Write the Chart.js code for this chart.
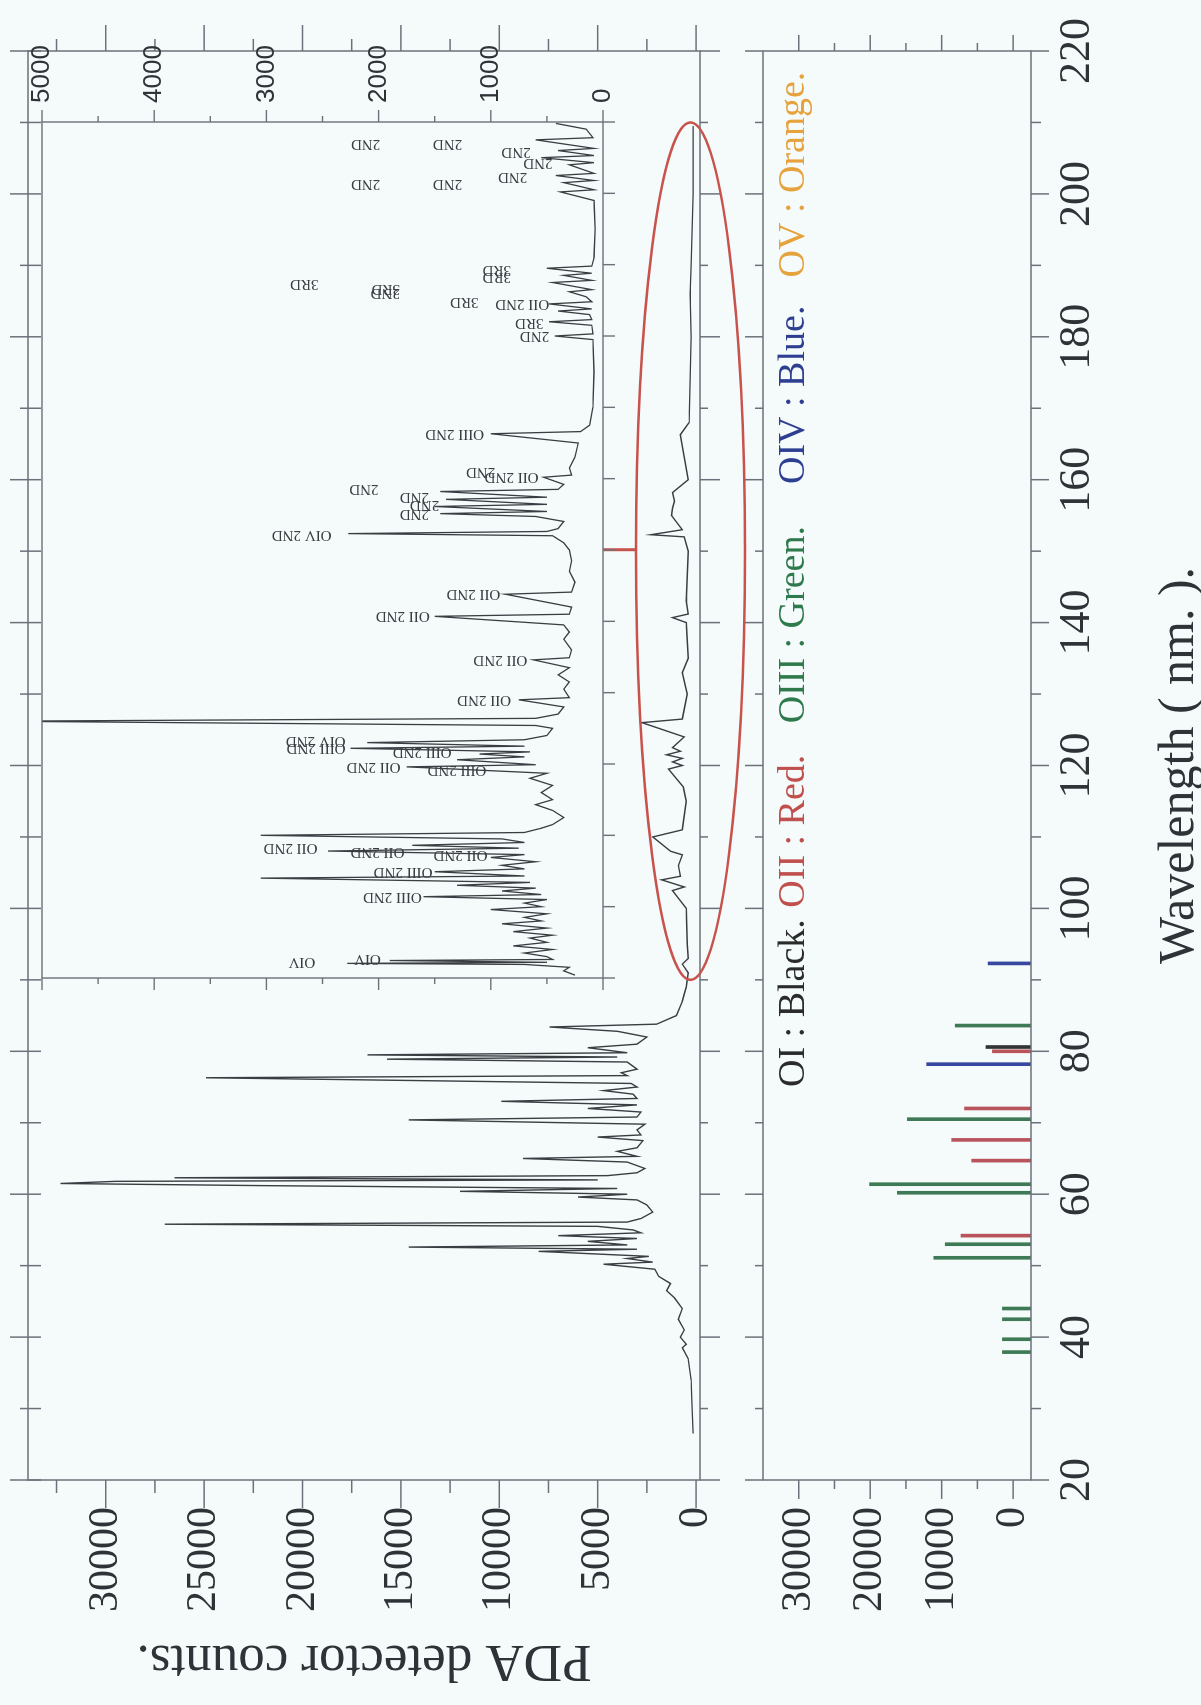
<!DOCTYPE html>
<html>
<head>
<meta charset="utf-8">
<script src="https://cdn.jsdelivr.net/npm/chart.js@4.4.1/dist/chart.umd.min.js"></script>
<style>
  html, body { margin:0; padding:0; }
  body { width:1201px; height:1705px; overflow:hidden; background:#f5fbfb; position:relative; }
  #stage { position:absolute; left:0; top:0; width:1705px; height:1201px; transform-origin:0 0; transform: translateY(1705px) rotate(-90deg); }
  #stage canvas { position:absolute; }
</style>
</head>
<body>
<div id="stage">
  <canvas id="mainChart" width="1705" height="760" style="left:0;top:0"></canvas>
  <canvas id="insetChart" width="1005" height="650" style="left:700px;top:0"></canvas>
  <canvas id="stickChart" width="1705" height="471" style="left:0;top:730px"></canvas>
</div>
<script>
// ---------------- data ----------------
const wlMajorTicks = [20, 40, 60, 80, 100, 120, 140, 160, 180, 200, 220];
const wlMinorTicks = [30, 50, 70, 90, 110, 130, 150, 170, 190, 210];
const insetWlTicks = [90, 100, 110, 120, 130, 140, 150, 160, 170, 180, 190, 200, 210];
const mainCountTicks = [0, 5000, 10000, 15000, 20000, 25000, 30000];
const mainCountMinor = [2500, 7500, 12500, 17500, 22500, 27500, 32500];
const insetCountTicks = [0, 1000, 2000, 3000, 4000, 5000];
const insetCountMinor = [500, 1500, 2500, 3500, 4500];
const stickCountTicks = [0, 10000, 20000, 30000];
const stickCountMinor = [5000, 15000, 25000];

// measured spectrum (wavelength nm, PDA counts)
const mainWl = [26.5, 30, 34, 37, 38.5, 39, 40, 41, 42.5, 44, 45.5, 46.5, 47.5, 48.5, 49.5, 50.2, 50.5, 51, 51.3, 52.0,
  52.3, 52.6, 52.9, 53.4, 53.8, 54.2, 54.6, 55.0, 55.5, 55.8, 56.1, 56.6, 57.5, 58.5, 59.2, 59.6, 60.0, 60.4, 60.8, 61.2,
  61.5, 61.8, 62.0, 62.3, 62.6, 63.0, 63.6, 64.5, 65.0, 65.3, 66.0, 66.5, 67.5, 68.0, 68.3, 69.0, 69.8, 70.4, 70.8, 71.5,
  72.0, 72.5, 73.0, 73.4, 74.0, 74.5, 75.0, 75.5, 76.3, 76.6, 77.0, 77.5, 78.5, 78.9, 79.2, 79.5, 79.8, 80.5, 81, 82,
  82.8, 83.4, 83.8, 85, 87, 89, 91, 92.2, 93, 95, 100, 102.5, 103, 104.0, 104.5, 106, 107.5, 108, 110.0, 111,
  115, 117, 119.5, 120, 120.5, 121, 121.5, 122, 122.5, 124, 126, 126.5, 130, 133, 135, 140, 140.7, 141.2, 143, 150, 152,
  152.3, 153, 155, 156, 157, 158.2, 160, 166.3, 168, 180, 186, 190, 200, 209.5];
const mainCounts = [150, 200, 250, 400, 700, 500, 800, 600, 900, 700, 1100, 1500, 1300, 1900, 2100, 4700, 2200, 3500, 2400, 8000,
  3000, 14600, 3500, 5500, 3000, 7000, 2800, 3200, 5000, 27000, 3500, 2800, 2200, 2500, 3000, 6000, 3500, 12000, 4000, 22000,
  32300, 29500, 5000, 26500, 4500, 3000, 2600, 3500, 8800, 3000, 4000, 3000, 2700, 5000, 2800, 3000, 2600, 14600, 3000, 2800,
  5500, 3000, 9900, 3000, 3200, 4700, 3000, 3300, 24900, 3500, 3800, 3000, 3500, 15700, 4000, 16700, 3500, 5500, 3000, 2500,
  4000, 7450, 2000, 1000, 700, 500, 400, 700, 400, 450, 500, 1200, 600, 1750, 800, 900, 700, 1300, 2200, 700,
  500, 650, 1400, 700, 1200, 700, 1500, 800, 1200, 600, 2750, 700, 450, 700, 400, 500, 1200, 400, 500, 400, 600,
  2300, 700, 1250, 1200, 1100, 1200, 400, 800, 350, 250, 300, 250, 150, 150];

// inset spectrum (90-210 nm, expanded count scale)
const insetWl = [90.4, 91.0, 91.5, 91.9, 92.05, 92.2, 92.45, 92.6, 93.0, 93.5, 94.0, 94.5, 95.0, 95.6, 96.0, 96.5, 97.0, 97.6, 98.0, 98.5,
  99.0, 99.6, 100.0, 100.5, 101.0, 101.4, 101.7, 102.2, 102.6, 103.0, 103.4, 104.0, 104.3, 104.9, 105.3, 105.8, 106.3, 106.9, 107.3, 107.8,
  108.2, 108.6, 109.0, 109.5, 110.0, 110.4, 111.0, 111.5, 112.5, 113.5, 114.3, 115.0, 116.0, 117.0, 118.0, 118.7, 119.6, 119.9, 120.6, 121.0,
  121.4, 121.7, 122.2, 122.5, 123.0, 123.4, 124.0, 125.0, 125.4, 126.0, 126.4, 127.0, 128.0, 129.0, 129.3, 130.5, 131.5, 132.5, 133.5, 134.6,
  134.9, 136.0, 137.5, 138.5, 139.5, 140.7, 141.0, 142.0, 143.8, 144.1, 145.5, 147.0, 148.5, 150.0, 151.0, 152.0, 152.3, 152.6, 153.0, 154.0,
  154.7, 155.1, 155.4, 156.1, 156.4, 157.1, 157.4, 158.2, 158.5, 159.2, 160.2, 160.5, 161.5, 163.0, 165.0, 166.3, 166.6, 167.5, 170, 175,
  179.5, 180.0, 180.3, 181.5, 182.0, 182.3, 183.0, 183.5, 183.8, 184.5, 184.8, 185.5, 186.2, 186.5, 187.5, 187.8, 188.5, 188.8, 189.5, 189.8,
  191, 195, 199, 200.2, 200.5, 201.5, 201.8, 202.5, 202.8, 204.0, 204.3, 205.0, 205.3, 206.0, 206.3, 207.5, 207.8, 209.0, 209.8];
const insetCounts = [250, 350, 300, 700, 2280, 500, 1900, 450, 500, 700, 450, 800, 500, 650, 450, 800, 500, 900, 550, 700,
  500, 1000, 550, 700, 500, 1600, 550, 900, 600, 1300, 650, 3050, 700, 1500, 700, 900, 600, 1000, 700, 2450,
  750, 1700, 700, 900, 3050, 700, 550, 450, 350, 450, 600, 450, 550, 450, 650, 500, 1750, 600, 1300, 700,
  1100, 650, 2250, 700, 2100, 700, 500, 450, 600, 5400, 600, 400, 350, 750, 300, 350, 300, 400, 300, 620,
  300, 280, 350, 300, 350, 1500, 300, 280, 870, 280, 250, 300, 280, 300, 350, 450, 2270, 500, 400, 350,
  600, 1450, 500, 1500, 500, 1400, 500, 1450, 400, 350, 530, 280, 300, 250, 220, 1000, 200, 120, 90, 80,
  90, 430, 90, 100, 480, 100, 120, 400, 100, 480, 100, 150, 300, 100, 450, 100, 350, 100, 500, 100,
  80, 70, 80, 380, 80, 350, 80, 420, 80, 300, 80, 550, 80, 400, 80, 600, 90, 150, 420];

// line identifications in the inset
const insetLabelText = ['OIV', 'OIV', 'OIII 2ND', 'OIII 2ND', 'OII 2ND', 'OII 2ND', 'OII 2ND',
  'OII 2ND', 'OIII 2ND', 'OIII 2ND', 'OIV 2ND', 'OIII 2ND', 'OII 2ND', 'OII 2ND', 'OII 2ND', 'OII 2ND',
  'OIV 2ND', '2ND', '2ND', '2ND', '2ND', 'OII 2ND', '2ND', 'OIII 2ND',
  '2ND', '3RD', 'OII 2ND', '3RD', '2ND', '3RD', '3RD', '3RD', '3RD',
  '2ND', '2ND', '2ND', '2ND', '2ND', '2ND', '2ND'];
const insetLabelWl = [92.3, 92.7, 101.4, 104.9, 108.3, 107.7, 107.2,
  119.6, 119.2, 122.2, 123.2, 121.7, 129.0, 134.6, 140.7, 143.8,
  152.1, 155.0, 156.3, 157.5, 158.6, 160.2, 161.0, 166.3,
  180.0, 181.9, 184.5, 184.8, 186.0, 186.6, 187.3, 188.3, 189.2,
  206.9, 206.9, 205.8, 204.3, 202.3, 201.3, 201.3];
const insetLabelCount = [2565, 1980, 1615, 1520, 2545, 1770, 1030,
  1805, 1040, 2295, 2295, 1350, 820, 675, 1545, 915,
  2420, 1550, 1460, 1550, 2000, 575, 960, 1060,
  480, 530, 480, 1110, 1810, 1810, 2535, 820, 820,
  1985, 1255, 645, 450, 675, 1985, 1255];

// NIST-type line strengths per ion
const oiWl = [80.6];               const oiStrength = [3800];
const oiiWl = [80.0, 72.0, 67.6, 64.7, 54.2];
const oiiStrength = [2900, 6800, 8600, 5800, 7300];
const oiiiWl = [83.6, 70.5, 61.4, 60.2, 53.0, 51.1, 44.0, 42.5, 39.7, 37.9];
const oiiiStrength = [8100, 14800, 20100, 16200, 9500, 11100, 1500, 1500, 1500, 1500];
const oivWl = [92.3, 78.2];        const oivStrength = [3500, 12100];
const legendItems = ['OI : Black.', 'OII : Red.', 'OIII : Green.', 'OIV : Blue.', 'OV : Orange.'];
const legendStartWl = [75.0, 100.1, 125.9, 159.4, 188.3];
const legendColors = ['#2b2b2b', '#c0504d', '#2f7a4c', '#2e3f92', '#e6a23c'];

// ---------------- helpers ----------------
const SERIF = "'Liberation Serif', 'Times New Roman', serif";
const SANS = "'Liberation Sans', Arial, sans-serif";
const INK = '#2f3338';
const FRAME = '#6b717a';
const pts = (xs, ys) => xs.map((x, i) => ({x, y: ys[i]}));
const sticks = (xs, ys, base) => xs.map((x, i) => ({x, y: [base, ys[i]]}));
const fixW = w => s => { s.width = w; };
const fixH = h => s => { s.height = h; };
const plain = v => String(v);

const frameTicks = {
  id: 'frameTicks',
  afterDatasetsDraw(chart, args, o) {
    const {ctx, chartArea: a} = chart;
    const xs = chart.scales.x, ys = chart.scales.y;
    ctx.save();
    ctx.strokeStyle = o.color; ctx.lineWidth = o.lineWidth;
    ctx.strokeRect(a.left, a.top, a.right - a.left, a.bottom - a.top);
    const seg = (x1, y1, x2, y2) => { ctx.beginPath(); ctx.moveTo(x1, y1); ctx.lineTo(x2, y2); ctx.stroke(); };
    (o.x || []).forEach(s => s.values.forEach(v => {
      const p = xs.getPixelForValue(v);
      if (s.side === 'top') seg(p, a.top + (s.inner || 0), p, a.top - s.len);
      else seg(p, a.bottom - (s.inner || 0), p, a.bottom + s.len);
    }));
    (o.y || []).forEach(s => s.values.forEach(v => {
      const p = ys.getPixelForValue(v);
      if (s.side === 'left') seg(a.left + (s.inner || 0), p, a.left - s.len, p);
      else seg(a.right - (s.inner || 0), p, a.right + s.len, p);
    }));
    ctx.restore();
  }
};

const ellipseMark = {
  id: 'ellipseMark',
  afterDraw(chart, args, o) {
    const xs = chart.scales.x, ys = chart.scales.y, ctx = chart.ctx;
    const cx = xs.getPixelForValue(o.centerWl), cy = ys.getPixelForValue(o.centerCount);
    const rx = Math.abs(xs.getPixelForValue(o.centerWl + o.halfWl) - cx);
    const ry = Math.abs(ys.getPixelForValue(o.centerCount + o.halfCount) - cy);
    ctx.save();
    ctx.strokeStyle = o.color; ctx.lineWidth = o.width;
    ctx.beginPath(); ctx.ellipse(cx, cy, rx, ry, 0, 0, 2 * Math.PI); ctx.stroke();
    const lx = xs.getPixelForValue(o.linkWl);
    ctx.lineWidth = o.linkWidth;
    ctx.beginPath(); ctx.moveTo(lx, ys.getPixelForValue(o.linkFrom)); ctx.lineTo(lx, ys.getPixelForValue(o.linkTo)); ctx.stroke();
    ctx.restore();
  }
};

const peakLabels = {
  id: 'peakLabels',
  afterDatasetsDraw(chart, args, o) {
    const xs = chart.scales.x, ys = chart.scales.y, ctx = chart.ctx;
    ctx.save();
    ctx.font = o.font; ctx.fillStyle = o.color; ctx.textBaseline = 'middle'; ctx.textAlign = 'left';
    o.text.forEach((t, i) => {
      ctx.save();
      ctx.translate(xs.getPixelForValue(o.wl[i]), ys.getPixelForValue(o.count[i]));
      ctx.rotate(-Math.PI / 2);
      ctx.fillText(t, 0, 0);
      ctx.restore();
    });
    ctx.restore();
  }
};

const legendLine = {
  id: 'legendLine',
  afterDraw(chart, args, o) {
    const xs = chart.scales.x, ys = chart.scales.y, ctx = chart.ctx;
    const y = ys.getPixelForValue(o.count);
    ctx.save();
    ctx.font = o.font; ctx.textBaseline = 'middle'; ctx.textAlign = 'left';
    o.items.forEach((t, i) => {
      ctx.fillStyle = o.colors[i];
      ctx.fillText(t, xs.getPixelForValue(o.startWl[i]), y);
    });
    ctx.restore();
  }
};

Chart.defaults.font.family = SERIF;
Chart.defaults.color = INK;

// ---------------- main chart ----------------
new Chart(document.getElementById('mainChart'), {
  type: 'line',
  data: { datasets: [{ data: pts(mainWl, mainCounts), borderColor: '#3a3d42', borderWidth: 1.4, pointRadius: 0, tension: 0 }] },
  options: {
    responsive: false, animation: false,
    layout: { padding: { left: 0, top: 28, right: 51, bottom: 60 } },
    scales: {
      x: { type: 'linear', min: 20, max: 220, display: false },
      y: { type: 'linear', min: -200, max: 33950,
        afterFit: fixW(225),
        afterBuildTicks: s => { s.ticks = mainCountTicks.map(v => ({value: v})); },
        grid: { display: false, drawTicks: true, tickLength: 27 },
        border: { display: false },
        ticks: { padding: 0, font: { size: 42, family: SERIF }, color: INK, callback: plain },
        title: { display: true, text: 'PDA detector counts.', font: { size: 53, family: SERIF, lineHeight: 1 }, color: INK, padding: { top: 19, bottom: 0 } }
      }
    },
    plugins: {
      legend: { display: false }, tooltip: { enabled: false },
      frameTicks: { color: FRAME, lineWidth: 1.5,
        x: [ { side: 'top', values: wlMajorTicks, len: 18, inner: 13 }, { side: 'top', values: wlMinorTicks, len: 8, inner: 13 },
             { side: 'bottom', values: wlMajorTicks, len: 20 }, { side: 'bottom', values: wlMinorTicks, len: 8 } ],
        y: [ { side: 'left', values: mainCountTicks, len: 28 }, { side: 'left', values: mainCountMinor, len: 13 },
             { side: 'right', values: mainCountTicks, len: 26 }, { side: 'right', values: mainCountMinor, len: 12 } ] },
      ellipseMark: { centerWl: 150, halfWl: 60, centerCount: 280, halfCount: 2770, color: '#c8524c', width: 2.5,
        linkWl: 150.2, linkFrom: 3050, linkTo: 4725, linkWidth: 3 }
    }
  },
  plugins: [frameTicks, ellipseMark]
});

// ---------------- inset chart ----------------
new Chart(document.getElementById('insetChart'), {
  type: 'line',
  data: { datasets: [{ data: pts(insetWl, insetCounts), borderColor: '#3a3d42', borderWidth: 1.3, pointRadius: 0, tension: 0 }] },
  options: {
    responsive: false, animation: false,
    layout: { padding: { left: 27, top: 42, right: 0, bottom: 47 } },
    scales: {
      x: { type: 'linear', min: 90, max: 210, display: false },
      y: { type: 'linear', position: 'right', min: 0, max: 5000,
        afterFit: fixW(122),
        afterBuildTicks: s => { s.ticks = insetCountTicks.map(v => ({value: v})); },
        grid: { display: false, drawTicks: true, tickLength: 19 },
        border: { display: false },
        ticks: { padding: 0, font: { size: 26, family: SANS }, color: INK, callback: plain }
      }
    },
    plugins: {
      legend: { display: false }, tooltip: { enabled: false },
      frameTicks: { color: FRAME, lineWidth: 1.4,
        x: [ { side: 'bottom', values: insetWlTicks, len: 12 } ],
        y: [ { side: 'left', values: insetCountTicks, len: 12 }, { side: 'left', values: insetCountMinor, len: 6 },
             { side: 'right', values: insetCountTicks, len: 12 }, { side: 'right', values: insetCountMinor, len: 6 } ] },
      peakLabels: { text: insetLabelText, wl: insetLabelWl, count: insetLabelCount, font: '15px ' + SERIF, color: '#3a3d42' }
    }
  },
  plugins: [frameTicks, peakLabels]
});

// ---------------- line-strength panel ----------------
const stickBase = -2500;
const stickSet = (xs, ys, color) => ({ data: sticks(xs, ys, stickBase), backgroundColor: color, borderWidth: 0, barThickness: 3, grouped: false });
new Chart(document.getElementById('stickChart'), {
  type: 'bar',
  data: { datasets: [
    stickSet(oiiiWl, oiiiStrength, '#3d7a55'),
    stickSet(oiiWl, oiiStrength, '#b9545c'),
    stickSet(oivWl, oivStrength, '#3848a0'),
    stickSet(oiWl, oiStrength, '#333333')
  ] },
  options: {
    responsive: false, animation: false,
    layout: { padding: { left: 0, top: 33, right: 51, bottom: 0 } },
    scales: {
      x: { type: 'linear', min: 20, max: 220, offset: false,
        afterFit: fixH(170),
        afterBuildTicks: s => { s.ticks = wlMajorTicks.map(v => ({value: v})); },
        grid: { display: false, drawTicks: true, tickLength: 20 },
        border: { display: false },
        ticks: { padding: 0, maxRotation: 0, minRotation: 0, autoSkip: false, font: { size: 44, family: SERIF }, color: INK, callback: plain },
        title: { display: true, text: 'Wavelength ( nm. ).', font: { size: 50, family: SERIF, lineHeight: 0.84 }, color: INK, padding: 0 }
      },
      y: { type: 'linear', min: -2500, max: 35000,
        afterFit: fixW(225),
        afterBuildTicks: s => { s.ticks = stickCountTicks.map(v => ({value: v})); },
        grid: { display: false, drawTicks: true, tickLength: 27 },
        border: { display: false },
        ticks: { padding: 0, font: { size: 42, family: SERIF }, color: INK, callback: plain }
      }
    },
    plugins: {
      legend: { display: false }, tooltip: { enabled: false },
      frameTicks: { color: FRAME, lineWidth: 1.5,
        x: [ { side: 'top', values: wlMajorTicks, len: 18 }, { side: 'top', values: wlMinorTicks, len: 8 },
             { side: 'bottom', values: wlMajorTicks, len: 18 }, { side: 'bottom', values: wlMinorTicks, len: 10 } ],
        y: [ { side: 'left', values: stickCountTicks, len: 19 }, { side: 'left', values: stickCountMinor, len: 9 },
             { side: 'right', values: stickCountTicks, len: 16 }, { side: 'right', values: stickCountMinor, len: 8 } ] },
      legendLine: { items: legendItems, colors: legendColors, startWl: legendStartWl, count: 30600, font: '38px ' + SERIF }
    }
  },
  plugins: [frameTicks, legendLine]
});
</script>
</body>
</html>
